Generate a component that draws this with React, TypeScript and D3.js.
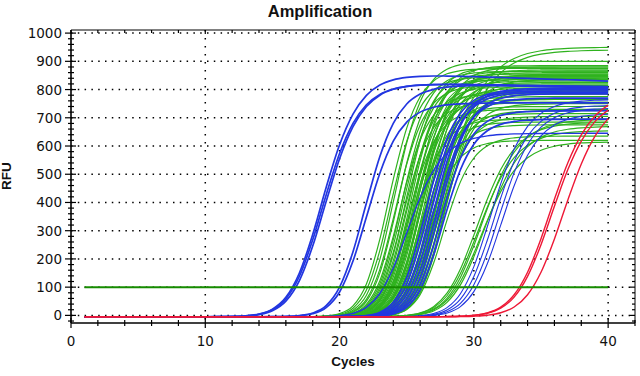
import React from 'react';
import * as d3 from 'd3';

const W = 640;
const H = 376;

// ---- data ----
const cycles = [1,2,3,4,5,6,7,8,9,10,11,12,13,14,15,16,17,18,19,20,21,22,23,24,25,26,27,28,29,30,31,32,33,34,35,36,37,38,39,40];
const xTicks = [0, 10, 20, 30, 40];
const yTicks = [0, 100, 200, 300, 400, 500, 600, 700, 800, 900, 1000];
const threshold = 100;
const thresholdRange = [1, 40];

// Per-curve: Ct (threshold crossing), RFU level at cycle 40, steepness, drift per cycle after plateau
const greenCt = [21.9,22.1,22.3,22.5,22.6,22.8,22.9,23.0,23.1,23.2,23.3,23.4,23.5,23.55,23.6,23.7,23.8,23.85,23.9,24.0,24.05,24.1,24.2,24.3,24.35,24.4,24.5,24.6,24.65,24.7,24.8,24.9,25.0,25.1,25.15,25.2,25.3,25.4,25.5,25.6,25.7,25.8,25.9,26.0,26.1,26.2,26.3,24.45,23.95,25.05,28.3,28.45,28.6,28.75,28.9];
const greenPlateau = [880,850,905,820,870,790,860,840,760,885,815,850,735,870,800,845,770,890,825,700,855,780,835,745,865,810,690,850,760,830,720,875,955,800,680,845,945,770,820,730,860,790,710,840,755,800,640,885,795,625,690,660,700,620,675];
const greenSlope = [1.15,1.15,1.15,1.15,1.15,1.15,1.15,1.15,1.15,1.15,1.15,1.15,1.15,1.15,1.15,1.15,1.15,1.15,1.15,1.15,1.15,1.15,1.15,1.15,1.15,1.15,1.15,1.15,1.15,1.15,1.15,1.15,1.7,1.15,1.15,1.15,1.7,1.15,1.15,1.15,1.15,1.15,1.15,1.15,1.15,1.15,1.15,1.15,1.15,1.15,1.5,1.5,1.5,1.5,1.5];

const blueCt = [16.5,16.6,16.75,20.0,20.2,23.3,24.7,24.9,25.1,25.3,25.5,25.7,25.9,26.1,29.3,29.6,29.9,30.2];
const bluePlateau = [835,815,810,815,758,650,805,800,795,810,775,790,730,700,770,750,740,720];
const blueSlope = [1.45,1.45,1.45,1.3,1.3,1.4,1.2,1.2,1.2,1.2,1.2,1.2,1.2,1.2,1.4,1.4,1.4,1.4];
const blueDrift = [-1.6,-0.8,-1.2,-0.5,0,0,0,0,0,0,0,0,0,0,0,0,0,0];
const blueWidth = [1.7,1.7,1.7,1.7,1.7,1.4,1.7,1.7,1.7,1.7,1.7,1.7,1.7,1.7,1.1,1.1,1.1,1.1];

const redCt = [33.4, 33.55, 34.4];
const redPlateau = [800, 785, 790];
const redSlope = [1.6, 1.6, 1.6];

const BASE = -5;
const G = 1.6;

function curve(ct: number, plateau: number, slope: number, drift: number): [number, number][] {
  const pAt = (c: number) => plateau + drift * (c - 40);
  const r = (threshold - BASE) / pAt(ct);
  const xt = -Math.log(Math.pow(r, -1 / G) - 1);
  const m = ct - xt * slope;
  return cycles.map((c) => [c, BASE + pAt(c) * Math.pow(1 + Math.exp(-(c - m) / slope), -G)]);
}

const x = d3.scaleLinear().domain([0, 42]).range([71, 635]);
const y = d3.scaleLinear().domain([-27, 1011]).range([323, 30]);

const line = d3
  .line<[number, number]>()
  .x((d) => x(d[0]))
  .y((d) => y(d[1]))
  .curve(d3.curveMonotoneX);

const GREEN = '#2fb21e';
const BLUE = '#2236e0';
const RED = '#ee1836';
const THRESH = '#168c00';

export default function App() {
  const [x0, x1] = x.range();
  const [yb, yt] = y.range();
  const xMinor = d3.range(0, 43, 2);
  const yMinor = d3.range(-20, 1001, 20);

  return (
    <svg
      width={W}
      height={H}
      style={{ position: 'absolute', left: 0, top: 0, background: '#fff' }}
    >
      <rect x={0} y={0} width={W} height={H} fill="#fff" />
      {/* grid */}
      <g stroke="#000" strokeWidth={1.5}>
        {yTicks.map((v) => (
          <line key={'gy' + v} x1={x0} x2={x1} y1={y(v)} y2={y(v)} strokeDasharray="1.5 5.3" />
        ))}
        {xTicks.filter((v) => v > 0).map((v) => (
          <line key={'gx' + v} x1={x(v)} x2={x(v)} y1={yt} y2={yb} strokeDasharray="1.5 6.5" />
        ))}
      </g>

      {/* curves */}
      <g fill="none">
        {greenCt.map((ct, i) => (
          <path key={'g' + i} d={line(curve(ct, greenPlateau[i], greenSlope[i], 0)) || ''} stroke={GREEN} strokeWidth={1.2} />
        ))}
        {blueCt.map((ct, i) => (
          <path key={'b' + i} d={line(curve(ct, bluePlateau[i], blueSlope[i], blueDrift[i])) || ''} stroke={BLUE} strokeWidth={blueWidth[i]} />
        ))}
        {redCt.map((ct, i) => (
          <path key={'r' + i} d={line(curve(ct, redPlateau[i], redSlope[i], 0)) || ''} stroke={RED} strokeWidth={1.4} />
        ))}
      </g>

      {/* threshold */}
      <line x1={x(thresholdRange[0])} x2={x(thresholdRange[1])} y1={y(threshold)} y2={y(threshold)} stroke={THRESH} strokeWidth={2} />

      {/* frame */}
      <line x1={x0} x2={x1} y1={yt} y2={yt} stroke="#000" strokeWidth={1} />
      <line x1={x1} x2={x1} y1={yt} y2={yb} stroke="#000" strokeWidth={1} />
      <line x1={x0} x2={x1} y1={yb} y2={yb} stroke="#000" strokeWidth={1.6} />
      <line x1={x0} x2={x0} y1={yt} y2={yb} stroke="#000" strokeWidth={1.6} />

      {/* ticks */}
      <g stroke="#000" strokeWidth={1.2}>
        {xMinor.map((v) => {
          const major = v % 10 === 0;
          return (
            <g key={'xt' + v}>
              <line x1={x(v)} x2={x(v)} y1={yb - (major ? 5 : 3)} y2={yb + (major ? 5 : 3)} />
              <line x1={x(v)} x2={x(v)} y1={yt} y2={yt + (major ? 4 : 3)} />
            </g>
          );
        })}
        {yMinor.map((v) => {
          const major = v % 100 === 0;
          return (
            <g key={'yt' + v}>
              <line x1={x0 - (major ? 6 : 3)} x2={x0 + (major ? 5 : 3)} y1={y(v)} y2={y(v)} />
              <line x1={x1 - (major ? 5 : 3)} x2={x1} y1={y(v)} y2={y(v)} />
            </g>
          );
        })}
      </g>

      {/* tick labels */}
      <g fontFamily="'DejaVu Sans', sans-serif" fontSize={13.5} fill="#111">
        {yTicks.map((v) => (
          <text key={'yl' + v} x={62} y={y(v) + 5} textAnchor="end">
            {v}
          </text>
        ))}
        {xTicks.map((v) => (
          <text key={'xl' + v} x={x(v)} y={346} textAnchor="middle">
            {v}
          </text>
        ))}
      </g>

      {/* titles */}
      <text x={320} y={17} textAnchor="middle" fontFamily="'Liberation Sans', Arial, sans-serif" fontWeight="bold" fontSize={16.5} fill="#111">
        Amplification
      </text>
      <text x={353} y={366} textAnchor="middle" fontFamily="'Liberation Sans', Arial, sans-serif" fontWeight="bold" fontSize={13.5} fill="#111">
        Cycles
      </text>
      <text transform="translate(11,176) rotate(-90)" textAnchor="middle" fontFamily="'Liberation Sans', Arial, sans-serif" fontWeight="bold" fontSize={13.5} fill="#111">
        RFU
      </text>
    </svg>
  );
}
